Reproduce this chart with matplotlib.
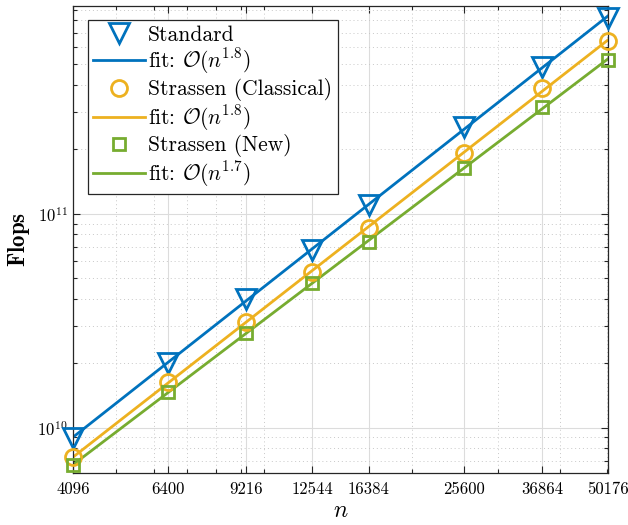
import numpy as np
import matplotlib
matplotlib.use("Agg")
import matplotlib.pyplot as plt
from matplotlib.ticker import FixedLocator, FixedFormatter, LogLocator, NullFormatter

plt.rcParams['font.family'] = ['cmr10', 'DejaVu Serif']
plt.rcParams['mathtext.fontset'] = 'cm'
plt.rcParams['axes.unicode_minus'] = False
plt.rcParams['axes.formatter.use_mathtext'] = True

n_vals = [4096, 6400, 9216, 12544, 16384, 25600, 36864, 50176]
flops_standard = [8.95e9, 2.01e10, 4.01e10, 6.77e10, 1.10e11, 2.54e11, 4.85e11, 8.21e11]
flops_strassen_classical = [7.30e9, 1.64e10, 3.12e10, 5.34e10, 8.58e10, 1.92e11, 3.87e11, 6.41e11]
flops_strassen_new = [6.69e9, 1.47e10, 2.77e10, 4.74e10, 7.38e10, 1.64e11, 3.15e11, 5.23e11]

series_names = ['Standard', 'Strassen (Classical)', 'Strassen (New)']
fit_labels = [r'fit: $\mathcal{O}(n^{1.8})$', r'fit: $\mathcal{O}(n^{1.8})$', r'fit: $\mathcal{O}(n^{1.7})$']
colors = ['#0072BD', '#EDB120', '#77AC30']
markers = ['v', 'o', 's']
msizes = [14, 11.5, 8.5]

fig = plt.figure(figsize=(6.28, 5.25), dpi=100)
ax = fig.add_axes([0.1162, 0.099, 0.968 - 0.1162, 0.9886 - 0.099])

x = np.array(n_vals, dtype=float)
for ys, name, flab, c, m, ms in zip([flops_standard, flops_strassen_classical, flops_strassen_new],
                                     series_names, fit_labels, colors, markers, msizes):
    y = np.array(ys)
    ax.plot(x, y, linestyle='none', marker=m, markersize=ms, markerfacecolor='none',
            markeredgecolor=c, markeredgewidth=2, label=name, zorder=3, clip_on=False)
    p = np.polyfit(np.log(x), np.log(y), 1)  # fit in log-log
    ax.plot(x, np.exp(np.polyval(p, np.log(x))), color=c, lw=2, label=flab, zorder=2)

ax.set_xscale('log')
ax.set_yscale('log')
ax.set_xlim(4096, 50176)
ax.set_ylim(6.14e9, 9.35e11)

ax.xaxis.set_major_locator(FixedLocator(n_vals))
ax.xaxis.set_major_formatter(FixedFormatter([str(v) for v in n_vals]))
ax.xaxis.set_minor_locator(FixedLocator([5000, 6000, 7000, 8000, 9000, 10000, 20000, 30000, 40000, 50000]))
ax.xaxis.set_minor_formatter(NullFormatter())
ax.yaxis.set_major_locator(LogLocator(base=10, numticks=10))
ax.yaxis.set_minor_locator(LogLocator(base=10, subs=np.arange(2, 10), numticks=20))
ax.yaxis.set_minor_formatter(NullFormatter())

ax.tick_params(which='both', direction='in', top=True, right=True, labelsize=12, width=0.8, color='#262626')
ax.tick_params(which='major', length=5)
ax.tick_params(which='minor', length=3)
ax.tick_params(axis='x', pad=6)

ax.grid(True, which='major', color='#dcdcdc', lw=0.8, ls='-')
ax.grid(True, which='minor', color='#c8c8c8', lw=0.7, ls=(0, (1, 3)))
ax.set_axisbelow(True)
for s in ax.spines.values():
    s.set_color('#262626')
    s.set_linewidth(0.9)

ax.set_xlabel(r'$n$', fontsize=17, labelpad=2)
ax.set_ylabel(r'$\mathbf{Flops}$', fontsize=16.5, labelpad=4)

leg = ax.legend(loc='upper left', bbox_to_anchor=(0.028, 0.970), fontsize=15.5, fancybox=False,
                edgecolor='#262626', framealpha=1, borderaxespad=0, handlelength=2.4,
                handletextpad=0.15, labelspacing=0.08, borderpad=0.25)
leg.get_frame().set_linewidth(0.9)

plt.savefig('out.png', dpi=100)
